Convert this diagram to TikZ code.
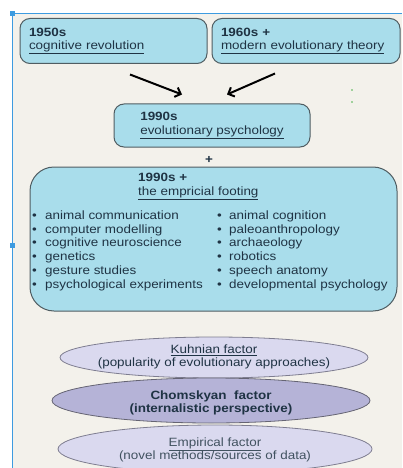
\documentclass[tikz,border=0pt]{standalone}
\usepackage{fontspec}
\setmainfont{Liberation Sans}[FakeStretch=1.12]
\usetikzlibrary{positioning,shapes.geometric,arrows.meta}

\definecolor{boxblue}{HTML}{A9DDEB}
\definecolor{boxline}{HTML}{505D62}
\definecolor{inktext}{HTML}{1F3344}
\definecolor{paper}{HTML}{F3F1EB}
\definecolor{frameblue}{HTML}{3D9BE0}
\definecolor{lilac}{HTML}{DAD9EF}
\definecolor{lilacdark}{HTML}{B5B3D7}
\definecolor{lilacline}{HTML}{7E7D90}

\begin{document}
\begin{tikzpicture}[x=1pt, y=-1pt,
    txt/.style={font=\fontsize{12}{13.7}\selectfont, text=inktext},
    era/.style={txt, draw=boxline, line width=1pt, fill=boxblue, rounded corners=10pt,
                align=left, inner xsep=9pt},
    item/.style={txt, inner sep=0pt, anchor=base west},
    factor/.style={draw=lilacline, line width=0.8pt},
    factortext/.style={txt, align=center, inner sep=0pt},
    arr/.style={-{Straight Barb[length=5pt,width=10pt]}, line width=2pt, black}]

  % page, frame and handles
  \useasboundingbox (0,0) rectangle (402,468);
  \fill[white] (0,0) rectangle (402,468);
  \fill[paper] (13,14) rectangle (402,468);
  \draw[frameblue, line width=1pt] (12.5,468) -- (12.5,13.5) -- (402,13.5);
  \fill[frameblue] (10,11) rectangle (15,16);
  \fill[frameblue] (10,243) rectangle (15,248);
  \fill[green!40!gray] (352,90) circle (0.8);
  \fill[green!40!gray] (352,102) circle (0.8);

  % top row
  \node (cogrev) [era, text width=169pt, minimum height=45pt] at (113.5,41)
    {\textbf{1950s}\\\underline{cognitive revolution}};
  \node (evotheory) [era, text width=170pt, minimum height=45pt] at (306,41)
    {\textbf{1960s +}\\\underline{modern evolutionary theory}};

  \node (evopsy) [era, minimum width=196pt, minimum height=43pt] at (212,125.5)
    {\textbf{1990s}\\\underline{evolutionary psychology}};

  \draw[arr] ([xshift=16.5pt,yshift=-10.5pt]cogrev.south) -- ([xshift=-30pt,yshift=9pt]evopsy.north);
  \draw[arr] ([xshift=-31pt,yshift=-9.5pt]evotheory.south) -- ([xshift=15pt,yshift=9pt]evopsy.north);

  \node (plus) [txt, font=\fontsize{12}{13.7}\selectfont\bfseries] at (209,160) {+};

  % empirical footing
  \node (footing) [draw=boxline, line width=1pt, fill=boxblue, rounded corners=24pt,
    minimum width=367pt, minimum height=144pt] at (213.5,239) {};
  \node (foothead) [txt, align=left, anchor=west, inner sep=0pt] at (138,186.5)
    {\textbf{1990s +}\\\underline{the empricial footing}};

  \foreach \txt [count=\i] in {animal communication, computer modelling,
      cognitive neuroscience, genetics, gesture studies, psychological experiments}
    \node (left\i) [item] at (32,{205.8+13.7*\i}) {\makebox[13pt][l]{\textbullet}\txt};
  \foreach \txt [count=\i] in {animal cognition, paleoanthropology, archaeology,
      robotics, speech anatomy, developmental psychology}
    \node (right\i) [item] at (217,{205.8+13.7*\i}) {\makebox[12pt][l]{\textbullet}\txt};

  % factors
  \draw[factor, fill=lilac] (214,357.5) ellipse [x radius=154, y radius=20.5];
  \draw[factor, fill=lilacdark, draw=lilacline!80!black] (211,400.5) ellipse [x radius=159, y radius=22.5];
  \draw[factor, fill=lilac] (215,449) ellipse [x radius=157, y radius=24];

  \node (kuhn) [factortext] at (214,357)
    {\underline{Kuhnian factor}\\(popularity of evolutionary approaches)};
  \node (chomsky) [factortext, font=\fontsize{12}{13.7}\selectfont\bfseries] at (211,403)
    {Chomskyan\ \ factor\\(internalistic perspective)};
  \node (empirical) [factortext, text=inktext!85] at (215,450)
    {\underline{Empirical factor}\\(novel methods/sources of data)};

\end{tikzpicture}
\end{document}
